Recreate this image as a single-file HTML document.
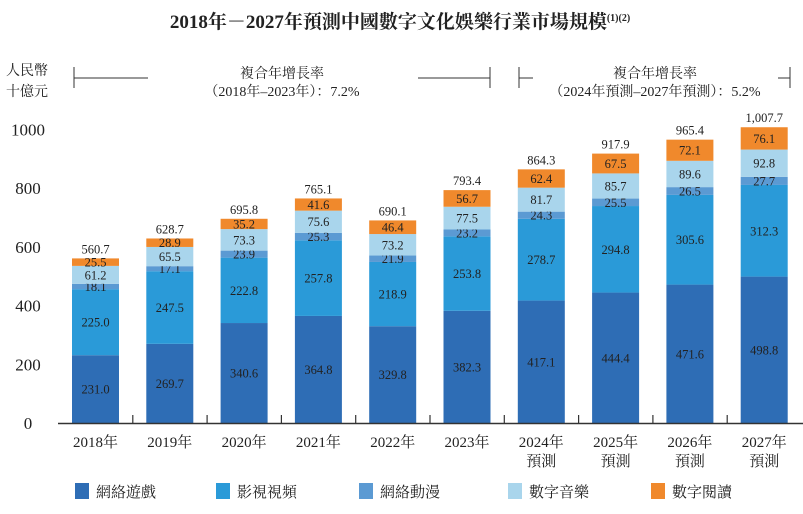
<!DOCTYPE html>
<html><head><meta charset="utf-8"><style>
body{margin:0;background:#fff;font-family:"Liberation Serif","Noto Serif CJK SC",serif;}
svg text{font-family:"Liberation Serif","Noto Serif CJK SC",serif;fill:#222;}
</style></head><body>
<svg id="chart" width="803" height="509">
<text x="400" y="28" text-anchor="middle" font-size="19" font-weight="bold">2018年－2027年預測中國數字文化娛樂行業市場規模<tspan font-size="10" dy="-7">(1)(2)</tspan></text>
<text x="6" y="75" font-size="14">人民幣</text>
<text x="6" y="96" font-size="14">十億元</text>
<g stroke="#333" stroke-width="1">
<line x1="74" y1="67" x2="74" y2="88"/><line x1="74" y1="78" x2="148" y2="78"/>
<line x1="418" y1="78" x2="490" y2="78"/><line x1="490" y1="67" x2="490" y2="88"/>
</g>
<text x="282" y="78" font-size="14" text-anchor="middle">複合年增長率</text>
<text x="282" y="96" font-size="14" text-anchor="middle">（2018年–2023年）：7.2%</text>
<g stroke="#333" stroke-width="1">
<line x1="519" y1="67" x2="519" y2="88"/><line x1="519" y1="78" x2="533" y2="78"/>
<line x1="778" y1="78" x2="790" y2="78"/><line x1="790" y1="67" x2="790" y2="88"/>
</g>
<text x="655" y="78" font-size="14" text-anchor="middle">複合年增長率</text>
<text x="655" y="96" font-size="14" text-anchor="middle">（2024年預測–2027年預測）：5.2%</text>
<g id="plot"></g>
</svg>
<script>
const categories=["2018年","2019年","2020年","2021年","2022年","2023年","2024年","2025年","2026年","2027年"];
const forecast=[false,false,false,false,false,false,true,true,true,true];
const gaming=[231.0,269.7,340.6,364.8,329.8,382.3,417.1,444.4,471.6,498.8];
const video=[225.0,247.5,222.8,257.8,218.9,253.8,278.7,294.8,305.6,312.3];
const anime=[18.1,17.1,23.9,25.3,21.9,23.2,24.3,25.5,26.5,27.7];
const music=[61.2,65.5,73.3,75.6,73.2,77.5,81.7,85.7,89.6,92.8];
const reading=[25.5,28.9,35.2,41.6,46.4,56.7,62.4,67.5,72.1,76.1];
const totals=["560.7","628.7","695.8","765.1","690.1","793.4","864.3","917.9","965.4","1,007.7"];
const yTicks=[0,200,400,600,800,1000];
const seriesNames=["網絡遊戲","影視視頻","網絡動漫","數字音樂","數字閱讀"];
const seriesKeys=["gaming","video","anime","music","reading"];
const colors=["#2e6db5","#2a9ad8","#5b9ad3","#a9d5ec","#f0892c"];
const seriesData=[gaming,video,anime,music,reading];
const NS="http://www.w3.org/2000/svg";
const g=document.getElementById("plot");
const y0=423,pxPer=0.2935,x0=72,step=74.3,bw=47;
const Y=v=>y0-v*pxPer;
const X=i=>x0+i*step;
function el(t,a,txt){const e=document.createElementNS(NS,t);for(const k in a)e.setAttribute(k,a[k]);if(txt!==undefined)e.textContent=txt;g.appendChild(e);return e;}
yTicks.forEach(v=>{
 const t=el("text",{x:28,y:Y(v)+6,"font-size":17,"text-anchor":"middle"},String(v));
 
 
});
categories.forEach((c,i)=>{
 let acc=0;
 seriesData.forEach((s,k)=>{
  const v=s[i];
  const r=el("rect",{x:X(i),y:Y(acc+v),width:bw,height:v*pxPer,fill:colors[k]});
  
  
  const t=el("text",{x:X(i)+bw/2,y:Y(acc+v/2)+4.5,"font-size":12.5,"text-anchor":"middle"},v.toFixed(1));
  
  
  acc+=v;
 });
 const tt=el("text",{x:X(i)+bw/2,y:Y(acc)-5,"font-size":12.5,"text-anchor":"middle"},totals[i]);
 
 
 const xl=el("text",{x:X(i)+bw/2,y:447,"font-size":15,"text-anchor":"middle"},c);
 
 
 if(forecast[i]){
  const f=el("text",{x:X(i)+bw/2,y:466,"font-size":15,"text-anchor":"middle"},"預測");
  
  
 }
 if(i>0){
  const tk=el("line",{x1:X(i)-13.5,y1:y0,x2:X(i)-13.5,y2:y0-8,stroke:"#333","stroke-width":1.2});
  
  
 }
});
const ax=el("line",{x1:58,y1:y0+0.5,x2:803,y2:y0+0.5,stroke:"#333","stroke-width":1.5});


const lx=[75,216,359,508,651];
seriesNames.forEach((n,k)=>{
 const r=el("rect",{x:lx[k],y:483,width:14,height:16,fill:colors[k]});
 
 
 const t=el("text",{x:lx[k]+21,y:497,"font-size":15},n);
 
 
});
</script>
</body></html>
